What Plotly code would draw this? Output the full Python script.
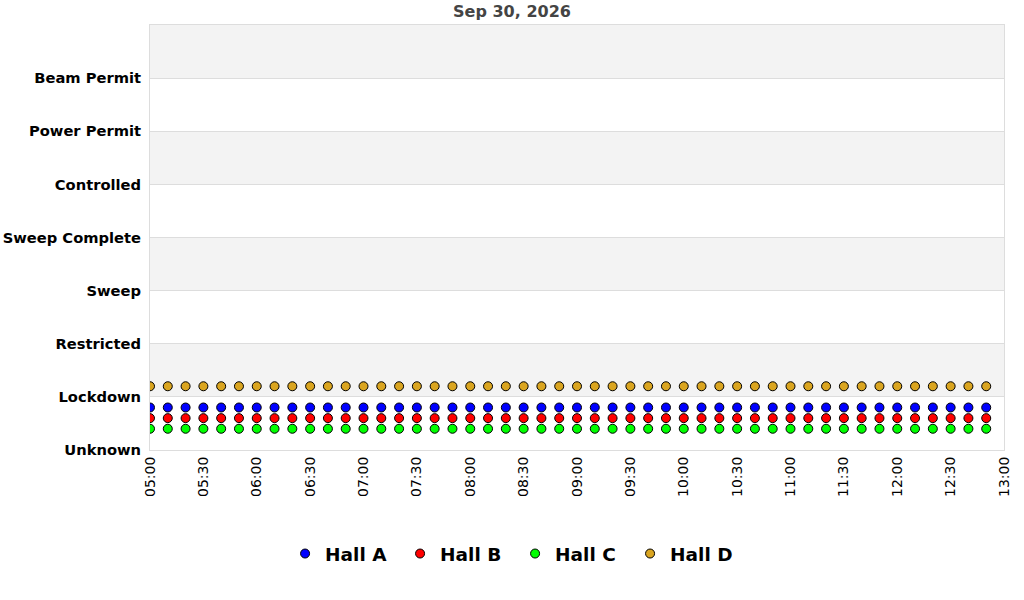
import plotly.graph_objects as go

# Hall status samples, every 10 minutes on Sep 30, 2026
times = [
    "05:00", "05:10", "05:20", "05:30", "05:40", "05:50",
    "06:00", "06:10", "06:20", "06:30", "06:40", "06:50",
    "07:00", "07:10", "07:20", "07:30", "07:40", "07:50",
    "08:00", "08:10", "08:20", "08:30", "08:40", "08:50",
    "09:00", "09:10", "09:20", "09:30", "09:40", "09:50",
    "10:00", "10:10", "10:20", "10:30", "10:40", "10:50",
    "11:00", "11:10", "11:20", "11:30", "11:40", "11:50",
    "12:00", "12:10", "12:20", "12:30", "12:40", "12:50",
]
day = "2026-09-30"

state_labels = ["Unknown", "Lockdown", "Restricted", "Sweep",
                "Sweep Complete", "Controlled", "Power Permit", "Beam Permit"]

halls = ["Hall A", "Hall B", "Hall C", "Hall D"]
hall_colors = ["#0000ff", "#ff0000", "#00ff00", "#daa520"]
# plotted state value (state index with a per-hall offset so points don't overlap)
hall_values = {
    "Hall A": [0.8] * len(times),
    "Hall B": [0.6] * len(times),
    "Hall C": [0.4] * len(times),
    "Hall D": [1.2] * len(times),
}

FONT = "DejaVu Sans"
GRID = "#dddddd"
BAND = "#f3f3f3"

x = [f"{day} {t}" for t in times]

fig = go.Figure()
for name, color in zip(halls, hall_colors):
    fig.add_trace(go.Scatter(
        x=x, y=hall_values[name], name=name, mode="markers",
        marker=dict(symbol="circle", size=9, color=color,
                    line=dict(color="black", width=1)),
    ))

# alternating horizontal bands
shapes = []
for lo in range(1, len(state_labels) + 1, 2):
    shapes.append(dict(type="rect", xref="paper", yref="y", x0=0, x1=1,
                       y0=lo, y1=lo + 1, fillcolor=BAND, line_width=0,
                       layer="below"))

fig.update_layout(
    width=1024, height=600,
    paper_bgcolor="white", plot_bgcolor="white",
    font=dict(family=FONT, size=13, color="black"),
    margin=dict(l=150, r=20, t=25, b=150),
    title=dict(text="Sep 30, 2026", x=0.5, xanchor="center",
               y=1 - 11 / 600, yanchor="middle",
               font=dict(size=16, color="#444444", weight="bold")),
    shapes=shapes,
    showlegend=True,
    legend=dict(orientation="h", xref="container", x=0.503, xanchor="center",
                yref="container", y=46 / 600, yanchor="middle",
                font=dict(size=18.5, weight="bold", color="black"),
                itemwidth=30, entrywidth=70, entrywidthmode="pixels",
                bgcolor="rgba(0,0,0,0)"),
    xaxis=dict(
        type="date", automargin=False,
        range=[f"{day} 05:00", f"{day} 13:00"],
        tickformat="%H:%M", dtick=30 * 60 * 1000,
        tick0=f"{day} 05:00",
        tickangle=-90, showgrid=False, zeroline=False,
        showline=True, linecolor=GRID, mirror=True,
        ticks="", tickfont=dict(size=14, color="black"),
    ),
    yaxis=dict(
        automargin=False,
        range=[0, len(state_labels)],
        tickvals=list(range(len(state_labels))), ticktext=state_labels,
        showgrid=True, gridcolor=GRID, zeroline=False,
        showline=True, linecolor=GRID, mirror=True,
        ticks="", ticklabelstandoff=5,
        tickfont=dict(size=14.7, weight="bold", color="black"),
    ),
)

fig.write_html("out.html", config={"displayModeBar": False},
               post_script="document.body.style.margin='0';")
